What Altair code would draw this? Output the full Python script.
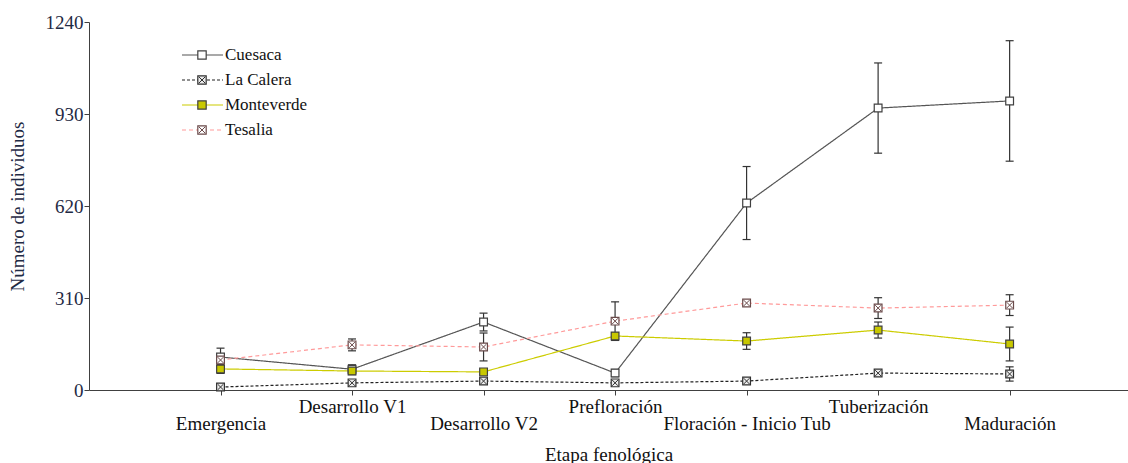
import json
import altair as alt
import pandas as pd

# Phenological stages (x axis, in order)
stages = ["Emergencia", "Desarrollo V1", "Desarrollo V2", "Prefloración",
          "Floración - Inicio Tub", "Tuberización", "Maduración"]

# Series (localities)
series = ["Cuesaca", "La Calera", "Monteverde", "Tesalia"]

# Mean number of individuals per stage
cuesaca = [111, 70, 229, 57, 630, 950, 974]
la_calera = [10, 24, 30, 24, 30, 57, 54]
monteverde = [71, 64, 61, 182, 165, 202, 155]
tesalia = [101, 152, 145, 232, 293, 276, 286]

# Error (half-length of the bars)
cuesaca_err = [30, 15, 30, 12, 123, 152, 203]
la_calera_err = [6, 8, 8, 6, 5, 6, 24]
monteverde_err = [15, 12, 8, 10, 28, 27, 57]
tesalia_err = [10, 20, 47, 65, 8, 35, 35]

y_ticks = [0, 310, 620, 930, 1240]

means = {"Cuesaca": cuesaca, "La Calera": la_calera,
         "Monteverde": monteverde, "Tesalia": tesalia}
errs = {"Cuesaca": cuesaca_err, "La Calera": la_calera_err,
        "Monteverde": monteverde_err, "Tesalia": tesalia_err}

rows = []
for s in series:
    for i, st in enumerate(stages):
        m, e = means[s][i], errs[s][i]
        rows.append({"serie": s, "idx": i, "etapa": st, "valor": m,
                     "lo": m - e, "hi": m + e})
df = pd.DataFrame(rows)
legend_df = pd.DataFrame({"serie": series, "fila": list(range(len(series)))})

FONT = "Liberation Serif"

# Styles per series
line_colors = ["#555555", "#222222", "#cccc00", "#ff9a9a"]
dashes = [[1, 0], [3, 2], [1, 0], [4, 3]]
marker_fill = ["#ffffff", "#ececec", "#c8c800", "#ffffff"]
marker_stroke = ["#404040", "#303030", "#404040", "#6a4a4a"]
cross_color = ["#ffffff", "#404040", "#c8c800", "#ff8080"]
crossed = ["La Calera", "Tesalia"]
cross_path = "M-0.75,-0.75L0.75,0.75M0.75,-0.75L-0.75,0.75"

color_scale = alt.Scale(domain=series, range=line_colors)
dash_scale = alt.Scale(domain=series, range=dashes)
fill_scale = alt.Scale(domain=series, range=marker_fill)
stroke_scale = alt.Scale(domain=series, range=marker_stroke)
cross_scale = alt.Scale(domain=series, range=cross_color)

# Two-row tick labels: even stages on the lower row
label_lines = [["", s] if i % 2 == 0 else [s] for i, s in enumerate(stages)]
label_expr = json.dumps(label_lines, ensure_ascii=False) + "[datum.value]"

x_enc = alt.X(
    "idx:Q",
    scale=alt.Scale(domain=[-1, 6.9], nice=False, zero=False),
    axis=alt.Axis(
        values=list(range(len(stages))), labelExpr=label_expr,
        title="Etapa fenológica", grid=False, tickSize=5,
        labelFont=FONT, titleFont=FONT,
        labelFontSize=19, labelLineHeight=17, labelBaseline="top",
        labelPadding=2, labelOverlap=False, labelFlush=False, labelBound=False,
        titleFontSize=19, titleFontWeight="normal", titlePadding=12,
        domainColor="#404040", tickColor="#404040",
        labelColor="#111111", titleColor="#111111",
    ),
)
y_scale = alt.Scale(domain=[0, 1240], nice=False)
y_enc = alt.Y(
    "valor:Q", scale=y_scale,
    axis=alt.Axis(
        values=y_ticks, format="d", title="Número de individuos", grid=False,
        tickSize=5, labelFont=FONT, titleFont=FONT,
        labelFontSize=19, labelPadding=1, titleFontSize=19,
        titleFontWeight="normal", titlePadding=18,
        domainColor="#404040", tickColor="#404040",
        labelColor="#1f2a44", titleColor="#1f2a44",
    ),
)

base = alt.Chart(df)

lines = base.mark_line(strokeWidth=1.2).encode(
    x=x_enc, y=y_enc,
    color=alt.Color("serie:N", scale=color_scale, legend=None),
    strokeDash=alt.StrokeDash("serie:N", scale=dash_scale, legend=None),
)

err_rules = base.mark_rule(color="#333333", strokeWidth=1.2).encode(
    x="idx:Q", y=alt.Y("lo:Q", scale=y_scale), y2="hi:Q",
)
cap_lo = base.mark_tick(orient="horizontal", size=8, thickness=1.2,
                        color="#333333", opacity=1).encode(
    x="idx:Q", y=alt.Y("lo:Q", scale=y_scale))
cap_hi = base.mark_tick(orient="horizontal", size=8, thickness=1.2,
                        color="#333333", opacity=1).encode(
    x="idx:Q", y=alt.Y("hi:Q", scale=y_scale))

markers = base.mark_point(shape="square", size=60, strokeWidth=1.2,
                          opacity=1).encode(
    x="idx:Q", y=alt.Y("valor:Q", scale=y_scale),
    fill=alt.Fill("serie:N", scale=fill_scale, legend=None),
    stroke=alt.Stroke("serie:N", scale=stroke_scale, legend=None),
)
crosses = base.transform_filter(
    alt.FieldOneOfPredicate(field="serie", oneOf=crossed)
).mark_point(shape=cross_path, size=60, strokeWidth=1, opacity=1,
             filled=False).encode(
    x="idx:Q", y=alt.Y("valor:Q", scale=y_scale),
    stroke=alt.Stroke("serie:N", scale=cross_scale, legend=None),
)

main = alt.layer(lines, err_rules, cap_lo, cap_hi, markers, crosses)

# Legend drawn inside the plot area, top-left (one row per series)
leg_y = alt.Y("fila:Q", scale=alt.Scale(domain=[0, 3], range=[33, 108]),
              axis=None)
leg = alt.Chart(legend_df)
leg_lines = leg.mark_rule(strokeWidth=1.2).encode(
    x=alt.value(93), x2=alt.value(134), y=leg_y,
    color=alt.Color("serie:N", scale=color_scale, legend=None),
    strokeDash=alt.StrokeDash("serie:N", scale=dash_scale, legend=None),
)
leg_marks = leg.mark_point(shape="square", size=70, strokeWidth=1.2,
                           opacity=1).encode(
    x=alt.value(113), y=leg_y,
    fill=alt.Fill("serie:N", scale=fill_scale, legend=None),
    stroke=alt.Stroke("serie:N", scale=stroke_scale, legend=None),
)
leg_cross = leg.transform_filter(
    alt.FieldOneOfPredicate(field="serie", oneOf=crossed)
).mark_point(shape=cross_path, size=70, strokeWidth=1, opacity=1,
             filled=False).encode(
    x=alt.value(113), y=leg_y,
    stroke=alt.Stroke("serie:N", scale=cross_scale, legend=None),
)
leg_text = leg.mark_text(align="left", baseline="middle", fontSize=17,
                         font=FONT, color="#111111").encode(
    x=alt.value(136), y=leg_y, text="serie:N",
)
legend_layer = alt.layer(leg_lines, leg_marks, leg_cross, leg_text)

chart = alt.layer(main, legend_layer).resolve_scale(y="independent").properties(
    width=1039, height=368,
    autosize=alt.AutoSizeParams(type="none"),
    padding={"left": 89, "top": 22, "right": 0, "bottom": 73},
).configure(font=FONT).configure_view(stroke=None)

chart.save("out.html", embed_options={"renderer": "svg", "actions": False})
